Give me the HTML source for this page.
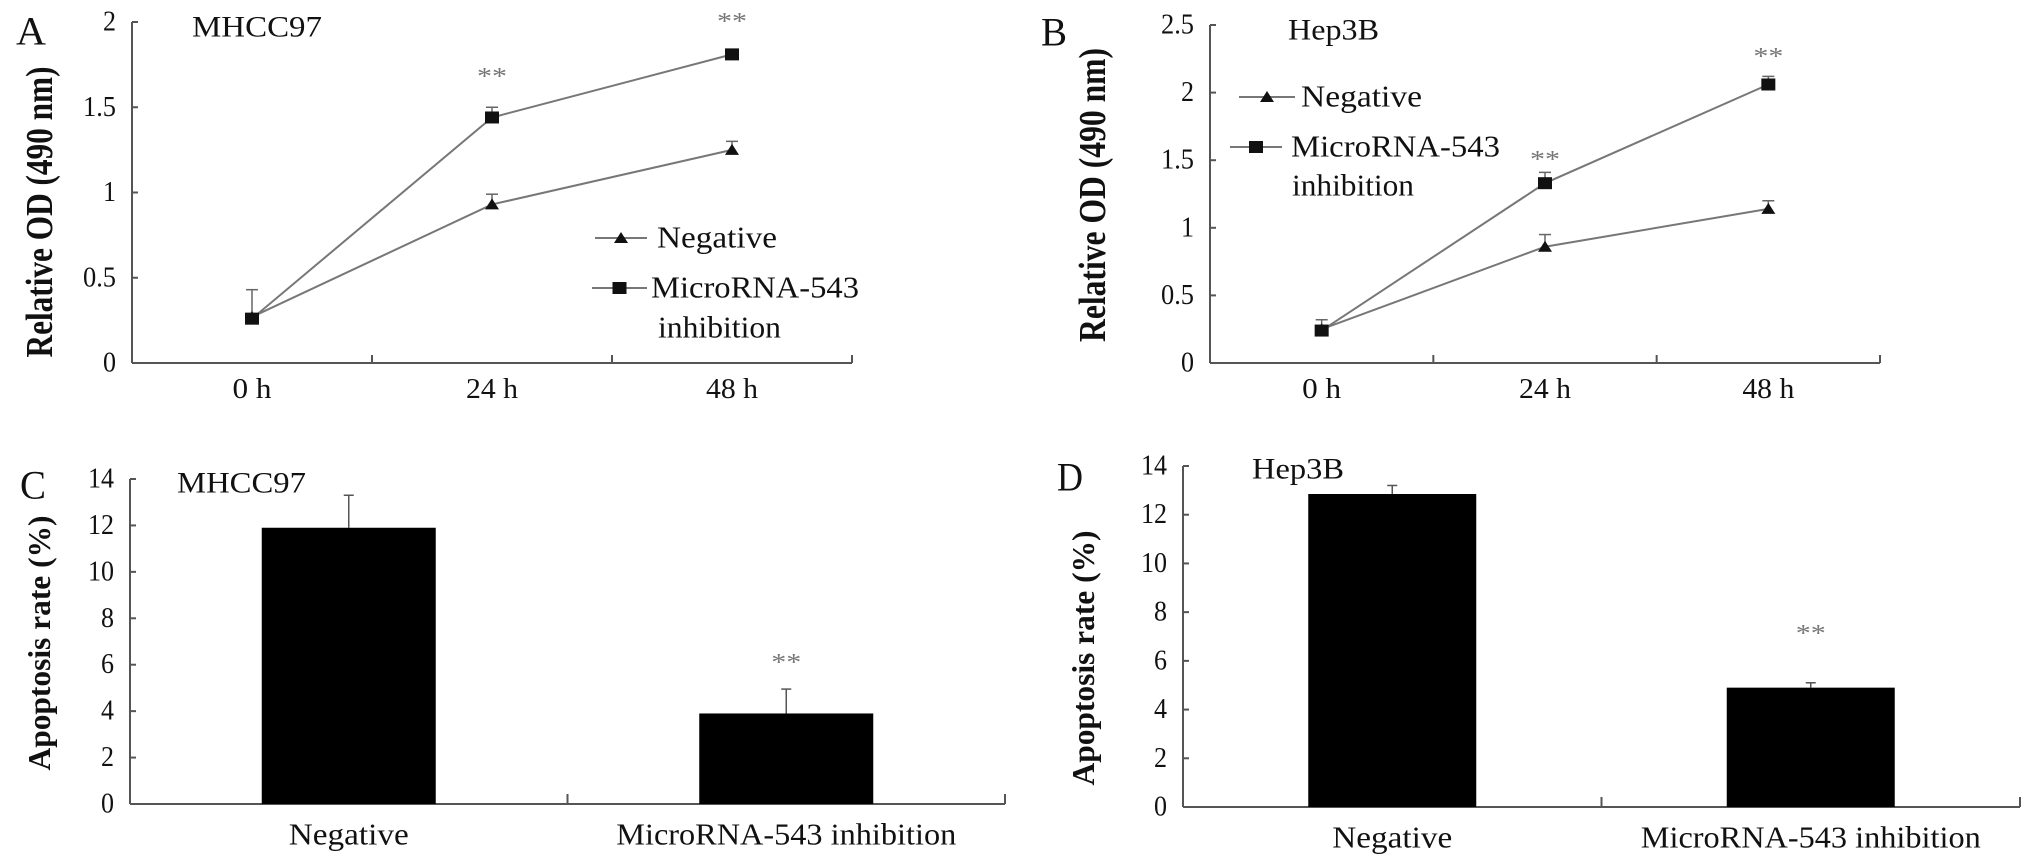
<!DOCTYPE html>
<html><head><meta charset="utf-8"><style>
html,body{margin:0;padding:0;background:#fff;overflow:hidden;}
svg{display:block;font-family:"Liberation Serif",serif;}
</style></head><body>
<svg id="fig" width="2031" height="863" viewBox="0 0 2031 863" xmlns="http://www.w3.org/2000/svg"></svg>
<script>
// Panel A (MHCC97) line chart
const timeCats = ["0 h","24 h","48 h"];
const aNeg = [0.27, 0.93, 1.25];
const aNegErr = [0.16, 0.06, 0.05];
const aMir = [0.26, 1.44, 1.81];
const aMirErr = [0.03, 0.06, 0.03];
const aTicks = [0, 0.5, 1, 1.5, 2];
const aTickLabels = ["0","0.5","1","1.5","2"];
// Panel B (Hep3B) line chart
const bNeg = [0.25, 0.86, 1.14];
const bNegErr = [0.07, 0.09, 0.06];
const bMir = [0.24, 1.33, 2.06];
const bMirErr = [0.03, 0.08, 0.06];
const bTicks = [0, 0.5, 1, 1.5, 2, 2.5];
const bTickLabels = ["0","0.5","1","1.5","2","2.5"];
// Panels C/D bar charts
const barCats = ["Negative","MicroRNA-543 inhibition"];
const cVals = [11.9, 3.9];
const cErr = [1.4, 1.05];
const dVals = [12.85, 4.9];
const dErr = [0.35, 0.2];
const barTicks = [0,2,4,6,8,10,12,14];

const NS="http://www.w3.org/2000/svg";
const svg=document.getElementById('fig');
function el(tag,attrs,parent,text){
  const e=document.createElementNS(NS,tag);
  for(const k in attrs) e.setAttribute(k,attrs[k]);
  if(text!==undefined) e.textContent=text;
  (parent||svg).appendChild(e);
  return e;
}
function txt(x,y,s,size,opts,parent){
  opts=opts||{};
  const t=el('text',{x:x,y:y,'font-size':size,'text-anchor':opts.anchor||'middle','dominant-baseline':'central',fill:opts.fill||'#111'},parent,s);
  if(opts.bold) t.setAttribute('font-weight','bold');
  if(opts.len){t.setAttribute('textLength',opts.len);t.setAttribute('lengthAdjust','spacingAndGlyphs');}
  if(opts.rot) t.setAttribute('transform','rotate(-90 '+x+' '+y+')');
  return t;
}
function yAxis(g,ax,yTop,yBot,ticks,labels,max,labelX){
  const L=el('line',{x1:ax,y1:yTop,x2:ax,y2:yBot,stroke:'#555','stroke-width':2},g);
  
  
  ticks.forEach((v,i)=>{
    const y=yBot-(v/max)*(yBot-yTop);
    el('line',{x1:ax,y1:y,x2:ax+6,y2:y,stroke:'#555','stroke-width':2},g);
    const s=labels[i];
    const t=txt(labelX,y,s,28,{anchor:'end',len:s.length*13+(s.indexOf('.')>=0?-6:0)},g);
    
    
  });
}
function marker(g,m,x,y){
  if(m==='sq') return el('rect',{x:x-7,y:y-6,width:14,height:12,fill:'#111'},g);
  return el('polygon',{points:x+','+(y-6)+' '+(x-7)+','+(y+5)+' '+(x+7)+','+(y+5),fill:'#111'},g);
}
function lineChart(name,cfg){
  const g=el('g',{},svg);
  
  
  const {ax,axEnd,yTop,yBot,max}=cfg;
  const sy=v=>yBot-(v/max)*(yBot-yTop);
  const bw=(axEnd-ax)/timeCats.length;
  const sx=i=>ax+bw*(i+0.5);
  yAxis(g,ax,yTop,yBot,cfg.ticks,cfg.tickLabels,max,ax-16);
  const xl=el('line',{x1:ax,y1:yBot,x2:axEnd,y2:yBot,stroke:'#555','stroke-width':2},g);
  
  
  for(let i=1;i<=timeCats.length;i++){el('line',{x1:ax+bw*i,y1:yBot,x2:ax+bw*i,y2:yBot-8,stroke:'#555','stroke-width':2},g);}
  timeCats.forEach((c,i)=>{
    const t=txt(sx(i),yBot+26,c,29,{len:c.length*13},g);
    
    
  });
  [[cfg.neg,cfg.negErr,'tri','negative-series'],[cfg.mir,cfg.mirErr,'sq','microrna-543-series']].forEach(([vals,errs,m,nm])=>{
    const pts=vals.map((v,i)=>sx(i)+','+sy(v)).join(' ');
    const pl=el('polyline',{points:pts,fill:'none',stroke:'#777','stroke-width':2},g);
    
    
    vals.forEach((v,i)=>{
      const x=sx(i),y=sy(v),ye=sy(v+errs[i]);
      el('line',{x1:x,y1:y,x2:x,y2:ye,stroke:'#666','stroke-width':1.5},g);
      el('line',{x1:x-6,y1:ye,x2:x+6,y2:ye,stroke:'#666','stroke-width':1.5},g);
      const mk=marker(g,m,x,y);
      
      
    });
  });
  cfg.stars.forEach(([i,y])=>{const t=txt(sx(i),y,'**',24,{fill:'#777',len:30},g);});
  return g;
}
function legend(g,items){
  items.forEach(it=>{
    el('line',{x1:it.lx1,y1:it.y,x2:it.lx2,y2:it.y,stroke:'#777','stroke-width':2},g);
    marker(g,it.m,(it.lx1+it.lx2)/2,it.y);
    it.lines.forEach(([s,x,y,len])=>{const t=txt(x,y,s,31,{anchor:'start',len:len},g);});
  });
}
function barChart(name,cfg){
  const g=el('g',{},svg);
  
  
  const {ax,axEnd,yTop,yBot,max}=cfg;
  const sy=v=>yBot-(v/max)*(yBot-yTop);
  const bw=(axEnd-ax)/barCats.length;
  const sx=i=>ax+bw*(i+0.5);
  yAxis(g,ax,yTop,yBot,barTicks,barTicks.map(String),max,ax-16);
  el('line',{x1:ax,y1:yBot,x2:axEnd,y2:yBot,stroke:'#555','stroke-width':2},g);
  for(let i=1;i<=barCats.length;i++){el('line',{x1:ax+bw*i,y1:yBot,x2:ax+bw*i,y2:yBot-10,stroke:'#555','stroke-width':2},g);}
  const barW=cfg.barW;
  cfg.vals.forEach((v,i)=>{
    const x=sx(i),y=sy(v),ye=sy(v+cfg.errs[i]);
    el('line',{x1:x,y1:y,x2:x,y2:ye,stroke:'#555','stroke-width':1.5},g);
    el('line',{x1:x-5,y1:ye,x2:x+5,y2:ye,stroke:'#555','stroke-width':1.5},g);
    const r=el('rect',{x:x-barW/2,y:y,width:barW,height:yBot-y,fill:'#000'},g);
    
    
  });
  barCats.forEach((c,i)=>{
    const t=txt(sx(i),yBot+30,c,31,{len:i===0?120:340},g);
    
    
  });
  const st=txt(sx(1),cfg.starY,'**',24,{fill:'#777',len:30},g);
  
  
  return g;
}

// Panel A
const gA=lineChart('panel-a-chart',{ax:132,axEnd:852,yTop:22,yBot:363,max:2,ticks:aTicks,tickLabels:aTickLabels,neg:aNeg,negErr:aNegErr,mir:aMir,mirErr:aMirErr,stars:[[1,77],[2,22]]});
txt(31,31,'A',40,{len:30},gA);
txt(192,27,'MHCC97',30,{anchor:'start',len:130},gA);
txt(40,212,'Relative OD (490 nm)',38,{bold:true,rot:true,len:291},gA);
legend(gA,[{lx1:595,lx2:647,y:238,m:'tri',lines:[['Negative',657,237,120]]},{lx1:592,lx2:647,y:288,m:'sq',lines:[['MicroRNA-543',651,287,208],['inhibition',658,327,123]]}]);

// Panel B
const gB=lineChart('panel-b-chart',{ax:1210,axEnd:1880,yTop:25,yBot:363,max:2.5,ticks:bTicks,tickLabels:bTickLabels,neg:bNeg,negErr:bNegErr,mir:bMir,mirErr:bMirErr,stars:[[1,160],[2,57]]});
txt(1054,32,'B',40,{len:26},gB);
txt(1288,30,'Hep3B',30,{anchor:'start',len:91},gB);
txt(1093,195,'Relative OD (490 nm)',38,{bold:true,rot:true,len:294},gB);
legend(gB,[{lx1:1239,lx2:1295,y:97,m:'tri',lines:[['Negative',1301,96,121]]},{lx1:1230,lx2:1282,y:147,m:'sq',lines:[['MicroRNA-543',1291,146,209],['inhibition',1292,185,122]]}]);

// Panel C
const gC=barChart('panel-c-chart',{ax:130,axEnd:1005,yTop:479,yBot:804,max:14,vals:cVals,errs:cErr,barW:174,starY:663});
txt(33,485,'C',40,{len:26},gC);
txt(177,483,'MHCC97',30,{anchor:'start',len:129},gC);
txt(39,643,'Apoptosis rate (%)',32,{bold:true,rot:true,len:255},gC);

// Panel D
const gD=barChart('panel-d-chart',{ax:1183,axEnd:2020,yTop:466,yBot:807,max:14,vals:dVals,errs:dErr,barW:168,starY:634});
txt(1070,477,'D',40,{len:26},gD);
txt(1252,469,'Hep3B',30,{anchor:'start',len:92},gD);
txt(1083,658,'Apoptosis rate (%)',32,{bold:true,rot:true,len:255},gD);
</script>
</body></html>
